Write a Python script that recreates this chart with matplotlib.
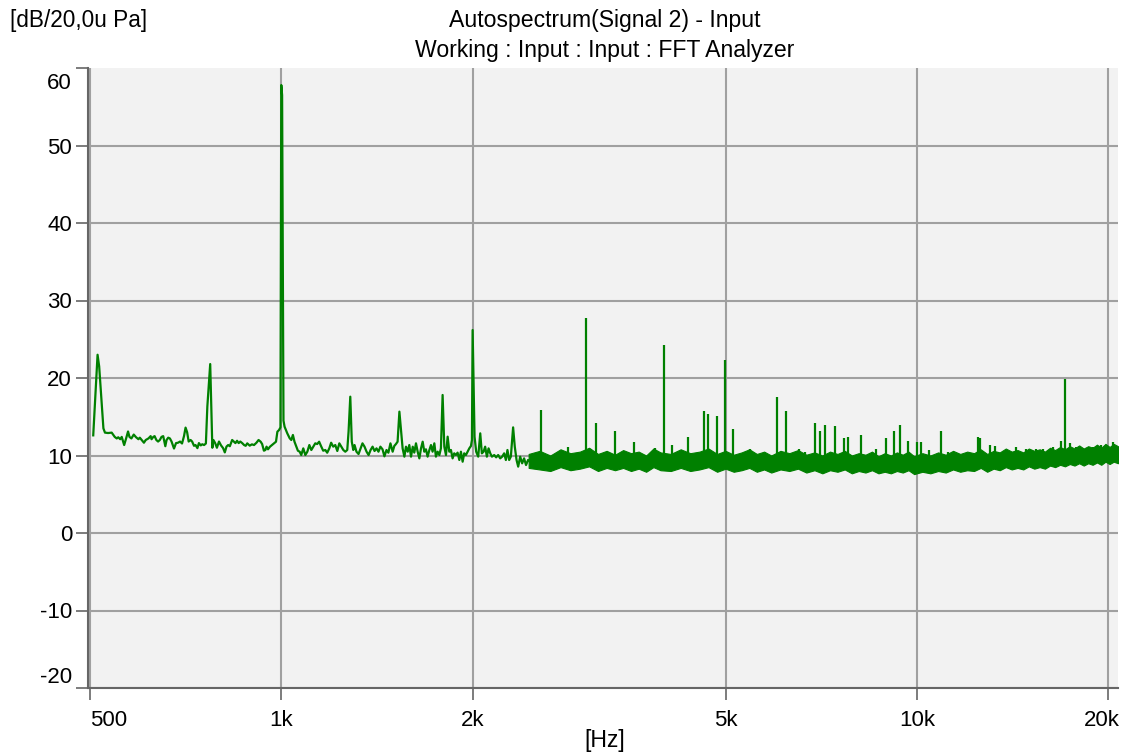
import matplotlib.pyplot as plt
from matplotlib.ticker import NullLocator
from matplotlib.transforms import ScaledTranslation

plt.rcParams['font.family'] = ['Liberation Sans', 'DejaVu Sans']
plt.rcParams['font.size'] = 16

# spectrum trace, 500 Hz .. 2.5 kHz  [Hz], [dB]
trace_freq = [506, 514, 517, 525, 528, 534, 541, 547, 551, 554, 558, 561, 566, 570, 574, 577,
              581, 586, 591, 596, 599, 603, 608, 612, 618, 623, 625, 629, 632, 636, 640, 644,
              648, 652, 657, 660, 664, 668, 672, 678, 683, 688, 693, 698, 703, 707, 711, 715,
              720, 724, 729, 733, 738, 742, 747, 751, 756, 761, 765, 773, 779, 782, 787, 792,
              798, 804, 810, 815, 820, 825, 830, 837, 842, 847, 852, 857, 862, 868, 874, 879,
              884, 892, 899, 906, 914, 921, 928, 933, 939, 944, 948, 953, 960, 967, 974, 981,
              986, 992, 997, 1000, 1003, 1008, 1012, 1022, 1031, 1037, 1043, 1049, 1056, 1062,
              1069, 1075, 1083, 1091, 1099, 1107, 1115, 1123, 1131, 1139, 1147, 1156, 1164,
              1173, 1181, 1190, 1198, 1207, 1216, 1225, 1234, 1243, 1252, 1261, 1270, 1276,
              1284, 1291, 1298, 1304, 1313, 1323, 1333, 1342, 1352, 1362, 1372, 1382, 1392,
              1402, 1412, 1422, 1432, 1443, 1453, 1464, 1474, 1485, 1497, 1506, 1515, 1524,
              1534, 1543, 1552, 1562, 1571, 1581, 1590, 1600, 1610, 1619, 1629, 1639, 1649,
              1659, 1669, 1679, 1689, 1699, 1710, 1720, 1730, 1741, 1751, 1762, 1773, 1783,
              1794, 1805, 1816, 1827, 1838, 1849, 1860, 1871, 1883, 1894, 1906, 1917, 1929,
              1940, 1952, 1964, 1976, 1988, 1995, 2000, 2014, 2026, 2041, 2056, 2068, 2081,
              2093, 2106, 2119, 2132, 2145, 2163, 2178, 2194, 2210, 2226, 2242, 2256, 2269,
              2283, 2297, 2316, 2330, 2345, 2359, 2376, 2393, 2410, 2427, 2445, 2463]
trace_db = [12.6, 23.0, 21.5, 13.5, 12.95, 12.9, 12.95, 12.4, 12.2, 12.35, 12.1, 12.4, 11.35, 12.2, 13.1, 12.4,
            12.2, 12.7, 12.35, 12.1, 12.3, 12.0, 11.65, 12.0, 12.2, 12.5, 12.1, 12.4, 12.5, 12.0, 11.8, 12.0,
            12.4, 12.5, 11.2, 12.0, 12.3, 12.2, 11.8, 10.9, 11.6, 11.65, 11.8, 11.55, 12.5, 13.6, 13.0, 11.8,
            12.0, 11.8, 11.25, 11.35, 10.95, 11.6, 11.3, 11.45, 11.35, 11.55, 16.3, 21.8, 11.0, 12.0, 11.6, 11.0,
            11.8, 11.3, 10.95, 10.4, 11.15, 11.35, 11.2, 12.0, 11.8, 11.6, 11.9, 11.6, 11.8, 11.6, 11.35, 11.25,
            11.57, 11.27, 11.44, 11.35, 11.65, 12.0, 11.78, 11.48, 10.62, 10.71, 11.14, 10.8, 11.14, 11.35, 11.57, 11.78,
            13.07, 13.29, 13.63, 57.8, 56.5, 14.5, 13.72, 12.86, 12.22, 12.0, 12.65, 11.78, 11.14, 10.62,
            10.49, 10.06, 10.92, 10.06, 10.49, 11.35, 10.71, 11.14, 11.57, 11.48, 11.78, 11.14, 10.62,
            10.71, 10.36, 10.92, 11.65, 11.14, 11.35, 10.58, 11.57, 11.14, 10.71, 10.49, 10.71, 13.07,
            17.59, 11.78, 10.71, 11.35, 10.49, 10.19, 10.92, 11.57, 11.14, 10.49, 10.06, 10.71, 11.14,
            10.58, 10.92, 10.49, 11.14, 10.8, 9.89, 10.71, 10.36, 11.57, 10.49, 11.23, 11.48, 11.78,
            15.66, 13.29, 10.92, 9.85, 11.14, 10.49, 11.35, 9.85, 11.14, 10.37, 11.57, 10.49, 9.63,
            10.92, 11.78, 10.49, 10.8, 9.85, 10.71, 11.35, 10.49, 11.57, 9.85, 10.49, 10.06, 10.92,
            17.81, 11.14, 10.06, 12.43, 10.49, 10.71, 9.63, 10.28, 10.06, 10.37, 9.42, 10.49, 9.2,
            10.28, 10.06, 10.49, 10.92, 11.23, 12.0, 26.19, 12.43, 10.49, 9.85, 12.86, 10.28, 10.49,
            11.14, 9.85, 10.92, 10.28, 9.85, 10.06, 9.76, 10.06, 9.63, 9.85, 10.28, 9.42, 10.71,
            9.42, 9.85, 13.63, 11.14, 9.42, 8.56, 9.85, 8.99, 9.63, 8.77, 9.42, 9.2]

# dense noise floor above 2.4 kHz, read as lower / upper edge
band_freq = [2450, 2550, 2650, 2750, 2850, 2950, 3050, 3150, 3250, 3350,
             3450, 3550, 3650, 3750, 3850, 3950, 4100, 4250, 4400, 4550,
             4700, 4850, 5000, 5150, 5300, 5450, 5600, 5750, 5900, 6100,
             6300, 6500, 6700, 6900, 7100, 7300, 7500, 7700, 7900, 8100,
             8300, 8500, 8700, 8900, 9100, 9300, 9500, 9700, 9900, 10200,
             10500, 10800, 11100, 11400, 11700, 12000, 12300, 12600, 12900, 13200,
             13500, 13800, 14100, 14400, 14700, 15000, 15300, 15600, 15900, 16200,
             16500, 16800, 17100, 17400, 17700, 18000, 18300, 18600, 18900, 19200,
             19500, 19800, 20100, 20400, 20720]
band_hi = [10.2, 10.6, 10.0, 10.8, 10.3, 10.5, 11.0, 10.2, 10.6, 10.1,
           10.7, 10.3, 10.5, 10.0, 10.9, 10.4, 10.2, 10.8, 10.3, 10.5,
           10.9, 10.2, 10.6, 10.1, 10.4, 10.8, 10.2, 10.5, 10.0, 10.6,
           10.3, 10.7, 10.1, 10.4, 10.0, 10.5, 10.2, 10.6, 10.0, 10.3,
           10.1, 10.5, 9.9, 10.3, 10.0, 10.4, 10.1, 10.5, 9.9, 10.3,
           10.0, 10.4, 10.1, 10.6, 10.2, 10.5, 10.3, 10.8, 10.2, 10.6,
           10.4, 10.9, 10.5, 10.7, 10.4, 10.9, 10.6, 10.8, 10.5, 11.0,
           10.7, 11.1, 10.8, 11.2, 10.9, 11.3, 10.9, 11.2, 11.0, 11.4,
           11.0, 11.5, 11.1, 11.5, 11.2]
band_lo = [8.4, 8.2, 8.0, 8.5, 8.1, 8.3, 8.6, 8.0, 8.4, 8.1,
           8.4, 8.0, 8.3, 7.9, 8.5, 8.1, 8.0, 8.4, 8.0, 8.2,
           8.5, 7.9, 8.3, 7.9, 8.1, 8.4, 7.9, 8.2, 7.8, 8.2,
           8.0, 8.3, 7.8, 8.1, 7.7, 8.1, 7.9, 8.2, 7.7, 8.0,
           7.8, 8.1, 7.7, 7.9, 7.7, 8.0, 7.8, 8.1, 7.6, 7.9,
           7.7, 8.0, 7.8, 8.2, 7.9, 8.1, 8.0, 8.4, 7.9, 8.3,
           8.1, 8.5, 8.2, 8.4, 8.2, 8.6, 8.3, 8.5, 8.3, 8.7,
           8.5, 8.8, 8.6, 8.9, 8.7, 9.0, 8.7, 9.0, 8.8, 9.1,
           8.8, 9.2, 8.9, 9.2, 9.0]

# single-bin lines sticking out of the noise floor
peak_freq = [2566, 2830, 3012, 3122, 3346, 3590, 3870, 4000, 4120, 4357, 4617, 4690, 4845, 4998,
             5130, 5466, 6015, 6229, 6514, 6660, 6920, 7040, 7160, 7420, 7680, 7790, 8170, 8610,
             8930, 9200, 9400, 9700, 9990, 10150, 10450, 10930, 11200, 12490, 12550, 13030, 13250,
             14335, 14862, 15410, 15790, 16370, 16830, 17090, 17400, 17810, 18920, 19500, 20340]
peak_db = [15.9, 11.1, 27.7, 14.2, 13.2, 11.7, 11.0, 24.3, 11.4, 12.4, 15.7, 15.4, 15.1, 22.3,
           13.4, 10.9, 17.6, 15.7, 10.9, 10.5, 14.2, 13.1, 13.9, 13.8, 12.2, 12.4, 12.6, 10.9,
           12.2, 13.2, 13.9, 11.9, 11.7, 11.7, 10.7, 13.2, 10.4, 12.4, 12.3, 11.4, 11.2,
           11.1, 10.9, 10.9, 10.9, 11.1, 11.9, 19.9, 11.6, 11.1, 11.1, 11.4, 11.7]

xticks = [500, 1000, 2000, 5000, 10000, 20000]
xtick_labels = ['500', '1k', '2k', '5k', '10k', '20k']
yticks = [-20, -10, 0, 10, 20, 30, 40, 50, 60]

green = '#008000'

fig = plt.figure(figsize=(11.24, 7.56), dpi=100)
ax = fig.add_axes([88 / 1124, 68 / 756, 1030 / 1124, 620 / 756])
ax.set_facecolor('#f2f2f2')

ax.plot(trace_freq, trace_db, color=green, lw=1.6, zorder=3)
ax.fill_between(band_freq, band_lo, band_hi, color=green, lw=0.8, zorder=3)
ax.vlines(peak_freq, 9.5, peak_db, color=green, lw=1.6, zorder=3)

ax.set_xscale('log')
ax.set_xlim(496.5, 20720)
ax.set_ylim(-20, 60)
ax.xaxis.set_minor_locator(NullLocator())
ax.set_xticks(xticks, xtick_labels)
ax.set_yticks(yticks, [str(v) for v in yticks])

ax.grid(True, color='#a0a0a0', lw=1.5, zorder=1)
ax.set_axisbelow(True)
ax.yaxis.get_gridlines()[-1].set_visible(False)

for side in ['top', 'right']:
    ax.spines[side].set_visible(False)
for side in ['left', 'bottom']:
    ax.spines[side].set_color('#666666')
    ax.spines[side].set_linewidth(1.5)
ax.tick_params(axis='both', direction='out', length=8.5, width=1.2, color='#666666', labelsize=16)
ax.tick_params(axis='x', pad=7)
ax.tick_params(axis='y', pad=3)

xl = ax.get_xticklabels()
xl[0].set_ha('left')
xl[-1].set_transform(xl[-1].get_transform() + ScaledTranslation(-0.06, 0, fig.dpi_scale_trans))
yl = ax.get_yticklabels()
yl[-1].set_va('top')
yl[-1].set_transform(yl[-1].get_transform() + ScaledTranslation(0, -0.05, fig.dpi_scale_trans))
yl[0].set_va('bottom')

fig.text(10 / 1124, 1 - 20 / 756, '[dB/20,0u Pa]', ha='left', va='center', fontsize=16.3)
fig.text(605 / 1124, 1 - 20 / 756, 'Autospectrum(Signal 2) - Input', ha='center', va='center', fontsize=16.6)
fig.text(605 / 1124, 1 - 51 / 756, 'Working : Input : Input : FFT Analyzer', ha='center', va='center', fontsize=16.6)
fig.text(605 / 1124, 1 - 740 / 756, '[Hz]', ha='center', va='center', fontsize=16.6)

fig.savefig('out.png', dpi=100)
